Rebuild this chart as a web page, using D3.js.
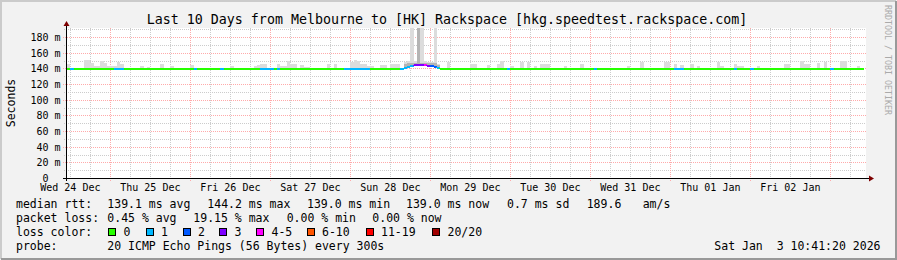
<!DOCTYPE html>
<html>
<head>
<meta charset="utf-8">
<script src="https://cdn.jsdelivr.net/npm/d3@7"></script>
<style>
body { margin: 0; background: #f2f2f2; }
svg text { font-family: "DejaVu Sans Mono", monospace; white-space: pre; }
</style>
</head>
<body>
<div id="chart"></div>
<script>
// svg params
var svgWidth = 897;
var svgHeight = 260;

// time range of the graph (hours below are counted from Wed 24 Dec 00:00)
var dayZero = new Date(2025, 11, 24);
var rangeStart = new Date(2025, 11, 24, 10, 41, 20);
var rangeEnd = new Date(2026, 0, 3, 10, 41, 20);
var firstHour = 10, lastHour = 249;

var title = "Last 10 Days from Melbourne to [HK] Rackspace [hkg.speedtest.rackspace.com]";

// median rtt, ms (139.0 everywhere except these hours)
var baseMedian = 139.0;
var medianHours = [111, 112, 113, 114, 115, 116, 117, 118, 119, 120, 121, 122];
var medianValues = [139.5, 140.5, 141.5, 142.5, 144.0, 144.2, 144.2, 144.0, 143.5, 142.5, 141.5, 140.0];

// lost pings per hour (0 everywhere except these hours)
var lossHours = [12, 25, 26, 27, 49, 57, 69, 70, 71, 72, 74, 94, 95, 96, 97, 98, 99, 100, 101,
  111, 112, 113, 114, 115, 116, 117, 118, 119, 120, 121, 122, 143, 169, 193, 194, 195, 211, 216, 240];
var lossValues = [1, 1, 1, 1, 1, 1, 1, 1, 1, 1, 1, 1, 1, 1, 1, 1, 1, 1, 1,
  1, 1, 1, 1, 3, 3, 3, 4, 3, 2, 2, 1, 1, 1, 1, 1, 1, 1, 1, 1];

// smoke: highest ping per hour, ms
var smokeHours = [11, 16, 17, 18, 19, 20, 21, 22, 23, 24, 25, 26, 27, 33, 35, 39, 42, 48, 60, 67, 68, 69, 70,
  74, 75, 76, 77, 78, 79, 81, 82, 83, 89, 91, 96, 97, 98, 99, 100, 101, 102, 105, 106, 108, 109, 110,
  112, 113, 114, 115, 116, 117, 118, 119, 120, 121, 122, 125, 132, 133, 137, 140, 141, 144, 147, 149,
  151, 153, 154, 155, 160, 165, 179, 183, 190, 191, 193, 195, 198, 200, 206, 207, 211, 212, 213, 218,
  226, 227, 231, 232, 233, 236, 238, 243, 244, 248];
var smokeMax = [146, 151, 151, 147, 143, 143, 149, 147, 143, 143, 143, 148, 145, 143, 142, 145, 143, 144, 143, 143, 144, 145, 145,
  145, 143, 143, 150, 145, 145, 144, 142, 142, 145, 145, 148, 151, 150, 146, 146, 143, 143, 144, 144, 146, 146, 146,
  148, 149, 195, 149, 195, 195, 149, 148, 148, 195, 146, 148, 145, 145, 144, 146, 150, 143, 148, 148,
  143, 146, 146, 146, 143, 146, 143, 148, 148, 148, 145, 144, 146, 143, 148, 143, 146, 143, 143, 143,
  145, 145, 150, 146, 146, 147, 148, 150, 150, 143];
// denser inner smoke around the Sun 28 Dec event
var smokeMidHours = [111, 112, 113, 114, 115, 116, 117, 118, 119, 120, 121, 122];
var smokeMidValues = [141, 146, 147, 147, 147, 195, 147, 147, 147, 147, 147, 144];

// axis ticks
var yMajorTicks = [0, 20, 40, 60, 80, 100, 120, 140, 160, 180];
var yMinorTicks = [10, 30, 50, 70, 90, 110, 130, 150, 170, 190];

// legend
var lossLabels = ["0", "1", "2", "3", "4-5", "6-10", "11-19", "20/20"];
var lossColors = ["#26ff00", "#00b8ff", "#0059ff", "#7e00ff", "#ff00ff", "#ff5500", "#ff0000", "#a10000"];
var rttStats = ["139.1 ms avg", "144.2 ms max", "139.0 ms min", "139.0 ms now", "0.7 ms sd", "189.6", "am/s"];
var lossStats = ["0.45 % avg", "19.15 % max", "0.00 % min", "0.00 % now"];
var probeText = "20 ICMP Echo Pings (56 Bytes) every 300s";
var stampText = "Sat Jan  3 10:41:20 2026";

// layout
var plot = { left: 66, right: 866, top: 28, bottom: 178 };
var rttX = [107.3, 207.3, 307, 406, 507, 586.7, 642.7];
var lossX = [107.3, 193.3, 286.7, 372.3];
var boxX = [108, 145.5, 182.5, 219, 256, 306.5, 365.5, 432];

function hourDate(h) { return d3.timeHour.offset(dayZero, h); }
function lossClass(n) {
  if (n <= 3) return n;
  if (n <= 5) return 4;
  if (n <= 10) return 5;
  if (n <= 19) return 6;
  return 7;
}

var hours = d3.range(firstHour, lastHour + 1).map(function(h) {
  var mi = medianHours.indexOf(h), li = lossHours.indexOf(h);
  return {
    h: h,
    median: mi < 0 ? baseMedian : medianValues[mi],
    loss: li < 0 ? 0 : lossValues[li]
  };
});
var medianOf = function(h) { var i = medianHours.indexOf(h); return i < 0 ? baseMedian : medianValues[i]; };

var svg = d3.select("#chart").append("svg")
  .attr("width", svgWidth)
  .attr("height", svgHeight);

// background with rrdtool-like shading
svg.append("rect").attr("width", svgWidth).attr("height", svgHeight).attr("fill", "#f2f2f2");
svg.append("path").attr("d", "M1,259V1H896").attr("fill", "none").attr("stroke", "#cbcbcb").attr("stroke-width", 2);
svg.append("path").attr("d", "M1,259H896V1").attr("fill", "none").attr("stroke", "#999999").attr("stroke-width", 2);

var xScale = d3.scaleTime().domain([rangeStart, rangeEnd]).range([plot.left, plot.right]);
var yScale = d3.scaleLinear().domain([0, 191.5]).range([plot.bottom, plot.top]);

svg.append("rect")
  .attr("x", plot.left).attr("y", plot.top)
  .attr("width", plot.right - plot.left).attr("height", plot.bottom - plot.top)
  .attr("fill", "#ffffff");

svg.append("defs").append("clipPath").attr("id", "clip")
  .append("rect")
  .attr("x", plot.left).attr("y", plot.top)
  .attr("width", plot.right - plot.left).attr("height", plot.bottom - plot.top);

// grid
var grid = svg.append("g").attr("shape-rendering", "crispEdges");
var minorTimes = d3.timeHour.every(6).range(rangeStart, rangeEnd).filter(function(d) { return d.getHours() !== 0; });
var majorTimes = d3.timeDay.range(rangeStart, rangeEnd);

grid.selectAll(".vminor").data(minorTimes).enter().append("line")
  .attr("x1", function(d) { return Math.round(xScale(d)) + 0.5; })
  .attr("x2", function(d) { return Math.round(xScale(d)) + 0.5; })
  .attr("y1", plot.top).attr("y2", plot.bottom + 2)
  .attr("stroke", "#cccccc").attr("stroke-dasharray", "1,1");
grid.selectAll(".hminor").data(yMinorTicks).enter().append("line")
  .attr("x1", plot.left - 2).attr("x2", plot.right)
  .attr("y1", function(d) { return Math.round(yScale(d)) + 0.5; })
  .attr("y2", function(d) { return Math.round(yScale(d)) + 0.5; })
  .attr("stroke", "#cccccc").attr("stroke-dasharray", "1,1");
grid.selectAll(".vmajor").data(majorTimes).enter().append("line")
  .attr("x1", function(d) { return Math.round(xScale(d)) + 0.5; })
  .attr("x2", function(d) { return Math.round(xScale(d)) + 0.5; })
  .attr("y1", plot.top).attr("y2", plot.bottom + 3)
  .attr("stroke", "#ffaaaa").attr("stroke-dasharray", "1,1");
grid.selectAll(".hmajor").data(yMajorTicks.slice(1)).enter().append("line")
  .attr("x1", plot.left - 3).attr("x2", plot.right)
  .attr("y1", function(d) { return Math.round(yScale(d)) + 0.5; })
  .attr("y2", function(d) { return Math.round(yScale(d)) + 0.5; })
  .attr("stroke", "#ffaaaa").attr("stroke-dasharray", "1,1");

// smoke
var graph = svg.append("g").attr("clip-path", "url(#clip)").attr("shape-rendering", "crispEdges");
graph.selectAll(".smoke").data(smokeHours).enter().append("rect")
  .attr("x", function(h) { return xScale(hourDate(h)); })
  .attr("width", function(h) { return xScale(hourDate(h + 1)) - xScale(hourDate(h)); })
  .attr("y", function(h, i) { return yScale(smokeMax[i]); })
  .attr("height", function(h, i) { return yScale(medianOf(h)) - yScale(smokeMax[i]); })
  .attr("fill", "#dcdcdc");
graph.selectAll(".smokemid").data(smokeMidHours).enter().append("rect")
  .attr("x", function(h) { return xScale(hourDate(h)); })
  .attr("width", function(h) { return xScale(hourDate(h + 1)) - xScale(hourDate(h)); })
  .attr("y", function(h, i) { return yScale(smokeMidValues[i]); })
  .attr("height", function(h, i) { return yScale(medianOf(h)) - yScale(smokeMidValues[i]); })
  .attr("fill", "#b4b4b4");

// median line, coloured by loss
hours.forEach(function(d, i) {
  var col = lossColors[lossClass(d.loss)];
  var x0 = xScale(hourDate(d.h)), x1 = xScale(hourDate(d.h + 1));
  var yv = yScale(d.median);
  graph.append("line")
    .attr("x1", x0).attr("x2", x1).attr("y1", yv).attr("y2", yv)
    .attr("stroke", col).attr("stroke-width", 2);
  if (i > 0 && hours[i - 1].median !== d.median) {
    graph.append("line")
      .attr("x1", x0).attr("x2", x0).attr("y1", yScale(hours[i - 1].median)).attr("y2", yv)
      .attr("stroke", col).attr("stroke-width", 2);
  }
});

// axes
var axes = svg.append("g").attr("shape-rendering", "crispEdges");
axes.append("line").attr("x1", plot.left - 3).attr("x2", plot.right + 3)
  .attr("y1", plot.bottom + 0.5).attr("y2", plot.bottom + 0.5).attr("stroke", "#000");
axes.append("line").attr("x1", plot.left + 0.5).attr("x2", plot.left + 0.5)
  .attr("y1", plot.bottom + 3).attr("y2", plot.top - 3).attr("stroke", "#000");
svg.append("path")
  .attr("d", "M" + (plot.right + 3) + "," + (plot.bottom - 2.5) + "l5,3l-5,3z")
  .attr("fill", "#7d0000");
svg.append("path")
  .attr("d", "M" + (plot.left - 2.5) + "," + (plot.top - 2) + "l3,-5l3,5z")
  .attr("fill", "#7d0000");

// y tick labels
svg.selectAll(".ylab").data(yMajorTicks).enter().append("text")
  .attr("x", 60.5)
  .attr("y", function(d) { return Math.round(yScale(d)) + 4; })
  .attr("text-anchor", "end")
  .attr("font-size", "10px")
  .attr("fill", "#000")
  .text(function(d) { return d === 0 ? "0  " : d + " m"; });

// x tick labels at noon
var noons = d3.timeDay.range(dayZero, rangeEnd).map(function(d) { return d3.timeHour.offset(d, 12); })
  .filter(function(d) { return d > rangeStart && d < rangeEnd; });
var fmt = d3.timeFormat("%a %d %b");
svg.selectAll(".xlab").data(noons).enter().append("text")
  .attr("x", function(d) { return xScale(d); })
  .attr("y", 191)
  .attr("text-anchor", "middle")
  .attr("font-size", "10px")
  .attr("fill", "#000")
  .text(function(d) { return fmt(d); });

// titles
svg.append("text").attr("x", 447).attr("y", 24).attr("text-anchor", "middle")
  .attr("font-size", "13.3px").attr("fill", "#000").text(title);
svg.append("text").attr("transform", "translate(14.5,103) rotate(-90)").attr("text-anchor", "middle")
  .attr("font-size", "11.5px").attr("fill", "#000").text("Seconds");
svg.append("text").attr("transform", "translate(884.5,5) rotate(90)")
  .attr("font-size", "8.3px").attr("fill", "#aaaaaa").text("RRDTOOL / TOBI OETIKER");

// legend
var legend = svg.append("g").attr("font-size", "11.5px").attr("fill", "#000");
legend.append("text").attr("x", 16).attr("y", 208).text("median rtt:");
legend.selectAll(".rtt").data(rttStats).enter().append("text")
  .attr("x", function(d, i) { return rttX[i]; }).attr("y", 208).text(function(d) { return d; });
legend.append("text").attr("x", 16).attr("y", 222).text("packet loss:");
legend.selectAll(".pl").data(lossStats).enter().append("text")
  .attr("x", function(d, i) { return lossX[i]; }).attr("y", 222).text(function(d) { return d; });
legend.append("text").attr("x", 16).attr("y", 236).text("loss color:");
legend.selectAll(".box").data(lossColors).enter().append("rect")
  .attr("x", function(d, i) { return boxX[i] + 0.5; }).attr("y", 228.5)
  .attr("width", 7).attr("height", 7)
  .attr("fill", function(d) { return d; })
  .attr("stroke", "#000").attr("stroke-width", 1)
  .attr("shape-rendering", "crispEdges");
legend.selectAll(".ll").data(lossLabels).enter().append("text")
  .attr("x", function(d, i) { return boxX[i] + 15.5; }).attr("y", 236).text(function(d) { return d; });
legend.append("text").attr("x", 16).attr("y", 250).text("probe:");
legend.append("text").attr("x", 107.3).attr("y", 250).text(probeText);
legend.append("text").attr("x", 880.5).attr("y", 250).attr("text-anchor", "end").text(stampText);
</script>
</body>
</html>
